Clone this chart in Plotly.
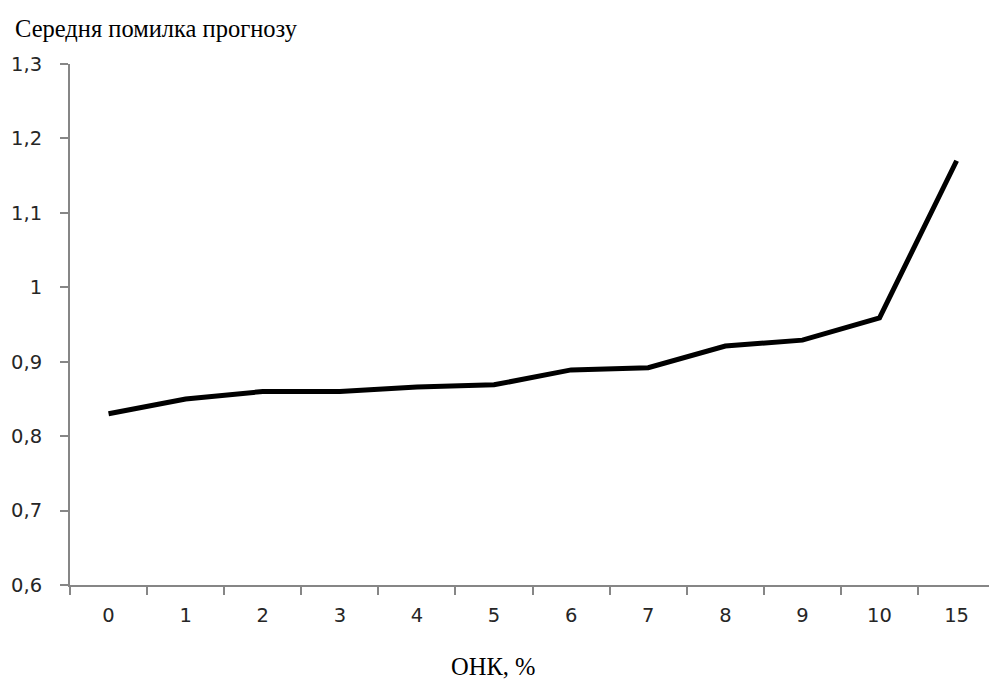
import plotly.graph_objects as go

# Share of missing data (ОНК, %) and the mean forecast error at each level
onk_levels = ["0", "1", "2", "3", "4", "5", "6", "7", "8", "9", "10", "15"]
mean_error = [0.83, 0.85, 0.86, 0.86, 0.866, 0.869, 0.889, 0.892, 0.921, 0.929, 0.959, 1.17]
y_ticks = [0.6, 0.7, 0.8, 0.9, 1.0, 1.1, 1.2, 1.3]

W, H = 989, 682
axis_grey = "#868686"
label_font = dict(family="DejaVu Sans, Verdana, sans-serif", size=19.5, color="#262626")
serif_font = dict(family="Liberation Serif, Times New Roman, serif", size=24.5, color="#000000")

fig = go.Figure(
    go.Scatter(
        x=onk_levels,
        y=mean_error,
        mode="lines",
        line=dict(color="#000000", width=5),
        hoverinfo="x+y",
    )
)

fig.update_layout(
    width=W,
    height=H,
    margin=dict(l=70, r=0, t=64, b=97),
    paper_bgcolor="white",
    plot_bgcolor="white",
    separators=", ",
    showlegend=False,
    xaxis=dict(
        type="category",
        range=[-0.5, 11.42],
        tickson="boundaries",
        ticks="outside",
        ticklen=8,
        tickwidth=2,
        tickcolor=axis_grey,
        showline=True,
        linecolor=axis_grey,
        linewidth=2,
        showgrid=False,
        zeroline=False,
        tickfont=label_font,
        ticklabelstandoff=12,
    ),
    yaxis=dict(
        range=[0.6, 1.3],
        tickvals=y_ticks,
        ticks="outside",
        ticklen=8,
        tickwidth=2,
        tickcolor=axis_grey,
        showline=True,
        linecolor=axis_grey,
        linewidth=2,
        showgrid=False,
        zeroline=False,
        tickfont=label_font,
        ticklabelstandoff=14,
    ),
    annotations=[
        dict(
            text="Середня помилка прогнозу",
            xref="paper", yref="paper",
            x=-57 / (W - 70), y=1 + (64 - 29) / (H - 64 - 97),
            xanchor="left", yanchor="middle",
            showarrow=False,
            font=serif_font,
        ),
        dict(
            text="ОНК, %",
            xref="paper", yref="paper",
            x=(493 - 70) / (W - 70), y=-(666 - 585) / (H - 64 - 97),
            xanchor="center", yanchor="middle",
            showarrow=False,
            font=serif_font,
        ),
    ],
)

fig.write_html("out.html")
